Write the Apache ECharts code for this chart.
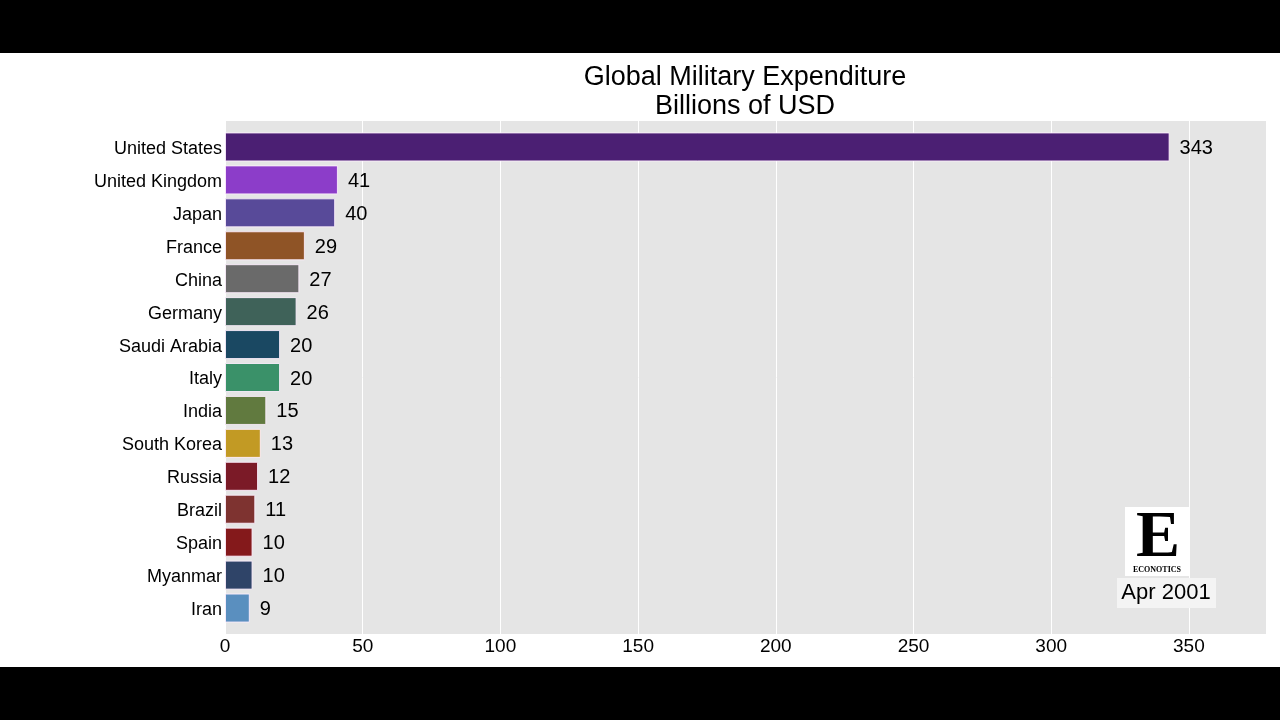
<!DOCTYPE html>
<html>
<head>
<meta charset="utf-8">
<script src="https://cdn.jsdelivr.net/npm/echarts@6/dist/echarts.min.js"></script>
<style>
html,body{margin:0;padding:0;background:#000;}
#chart{width:1280px;height:720px;}
</style>
</head>
<body>
<div id="chart"></div>
<script>
const categories = ["United States","United Kingdom","Japan","France","China","Germany","Saudi Arabia","Italy","India","South Korea","Russia","Brazil","Spain","Myanmar","Iran"];
const values = [343,41,40,29,27,26,20,20,15,13,12,11,10,10,9];
const barColors = ["#4b1f73","#8c3dc9","#584a99","#8f5426","#6a6a6a","#3f6259","#1a4862","#3a9169","#617a3f","#c29a24","#7b1a27","#7e3330","#84191b","#2f4468","#5a8fbf"];
const xTicks = [0,50,100,150,200,250,300,350];
const titleLines = ["Global Military Expenditure","Billions of USD"];
const dateLabel = "Apr 2001";
const xMax = 378;

const chart = echarts.init(document.getElementById('chart'), null, {renderer:'canvas'});
const font = "'Liberation Sans', Arial, Helvetica, sans-serif";

chart.setOption({
  animation:false,
  backgroundColor:'#000',
  graphic:[
    {type:'rect',z:-10,silent:true,shape:{x:0,y:53,width:1280,height:614},style:{fill:'#fff'}},
    {type:'text',z:101,silent:true,style:{text:titleLines[0],x:745,y:78,textAlign:'center',textVerticalAlign:'middle',font:"27px 'Liberation Sans', Arial, sans-serif",fill:'#000'}},
    {type:'text',z:101,silent:true,style:{text:titleLines[1],x:745,y:107,textAlign:'center',textVerticalAlign:'middle',font:"27px 'Liberation Sans', Arial, sans-serif",fill:'#000'}},
    {type:'rect',z:100,silent:true,shape:{x:1125,y:507,width:64,height:69},style:{fill:'#fff'}},
    {type:'text',z:101,silent:true,style:{text:'E',x:1158,y:539,textAlign:'center',textVerticalAlign:'middle',font:"bold 66px 'Liberation Serif', 'DejaVu Serif', serif",fill:'#000'}},
    {type:'text',z:101,silent:true,style:{text:'ECONOTICS',x:1157,y:570,textAlign:'center',textVerticalAlign:'middle',font:"bold 8px 'Liberation Serif', 'DejaVu Serif', serif",fill:'#000'}},
    {type:'rect',z:100,silent:true,shape:{x:1117,y:578,width:99,height:30},style:{fill:'#f4f4f4'}},
    {type:'text',z:101,silent:true,style:{text:dateLabel,x:1166,y:593,textAlign:'center',textVerticalAlign:'middle',font:"22px 'Liberation Sans', Arial, sans-serif",fill:'#000'}}
  ],
  grid:[
    {left:225,right:14,top:130.5,bottom:95.5,containLabel:false},
    {left:225,right:14,top:121,bottom:86,show:true,backgroundColor:'#e5e5e5',borderWidth:0,z:-1}
  ],
  xAxis:[
    {type:'value',gridIndex:0,min:0,max:xMax,show:false},
    {type:'value',gridIndex:1,min:0,max:xMax,interval:50,
      axisLine:{show:false},axisTick:{show:false},
      splitLine:{show:true,lineStyle:{color:'#ffffff',width:1}},
      axisLabel:{fontFamily:font,fontSize:19,color:'#000',margin:3,
        formatter:function(v){return xTicks.indexOf(v)>=0?String(v):'';},showMaxLabel:false}
    }
  ],
  yAxis:[
    {type:'category',gridIndex:0,data:categories,inverse:true,
      axisLine:{show:false},axisTick:{show:false},splitLine:{show:false},
      axisLabel:{fontFamily:font,fontSize:18,color:'#000',margin:3,verticalAlign:'top',lineHeight:4}
    },
    {type:'value',gridIndex:1,show:false,min:0,max:1}
  ],
  series:[{
    type:'bar',xAxisIndex:0,yAxisIndex:0,
    data: values.map((v,i)=>({value:v,itemStyle:{color:barColors[i]}})),
    barWidth:29,
    itemStyle:{borderColor:'rgba(255,240,255,0.85)',borderWidth:1},
    label:{show:true,position:'right',distance:10,offset:[0,1.5],fontFamily:font,fontSize:20,color:'#000'}
  }]
});
</script>
</body>
</html>
